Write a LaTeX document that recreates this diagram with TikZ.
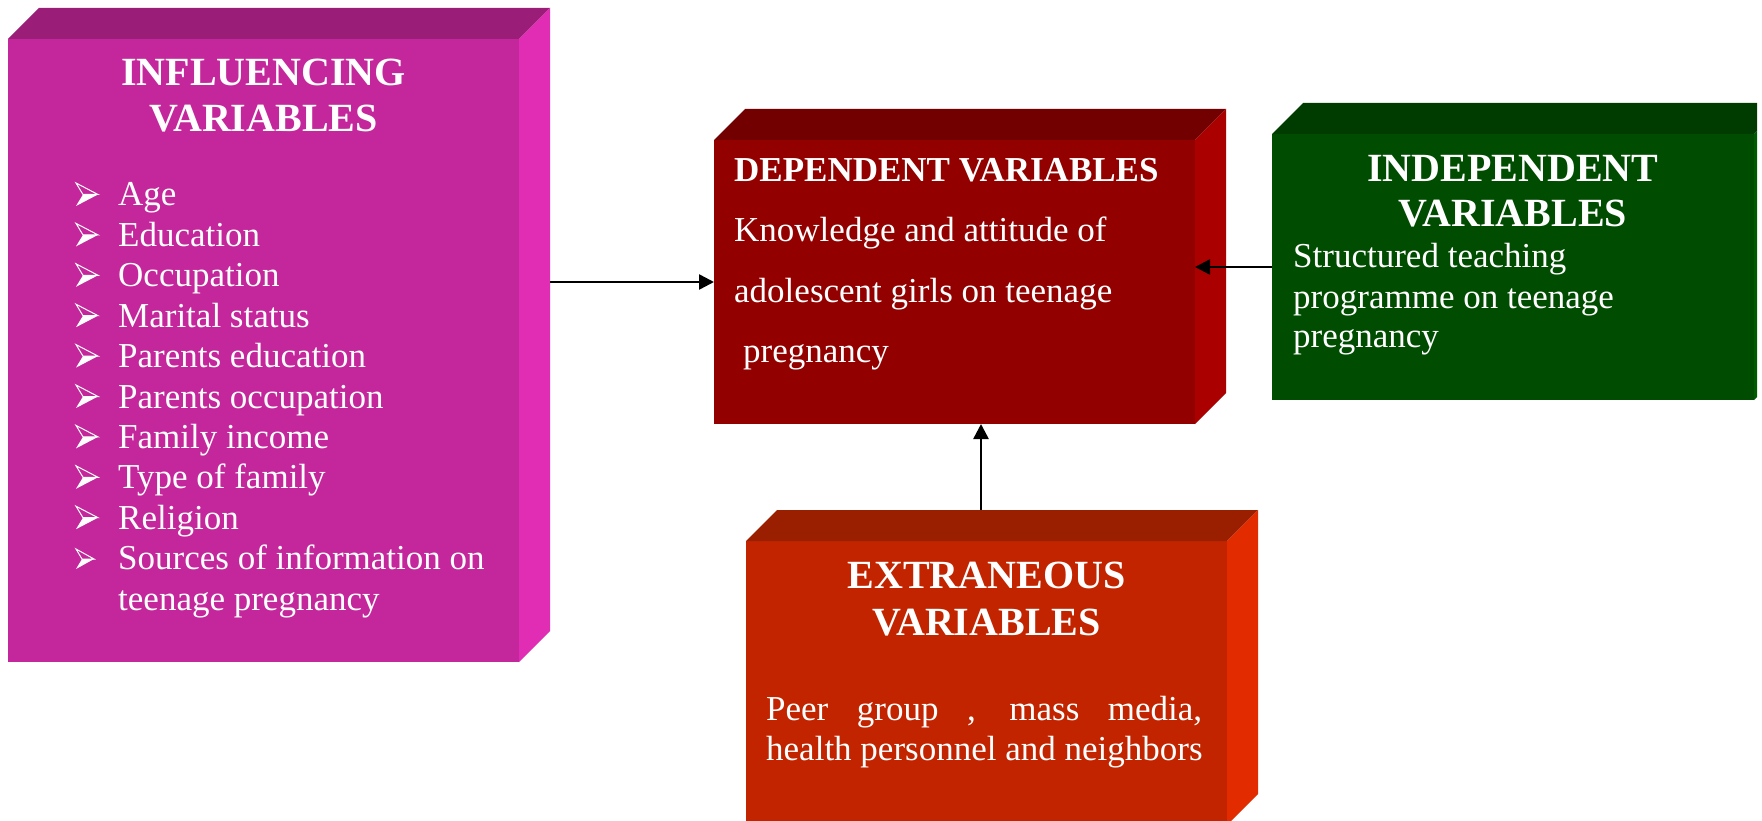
\documentclass[tikz,border=0pt]{standalone}
\usepackage{fontspec}
\setmainfont{Liberation Serif}
\usetikzlibrary{arrows.meta,calc}

% face colours of the four blocks
\definecolor{infl-front}{HTML}{C4279B}
\definecolor{infl-top}{HTML}{9A1E77}
\definecolor{infl-side}{HTML}{E02DB3}
\definecolor{dep-front}{HTML}{920000}
\definecolor{dep-top}{HTML}{720000}
\definecolor{dep-side}{HTML}{AA0000}
\definecolor{ind-front}{HTML}{004C00}
\definecolor{ind-top}{HTML}{003C00}
\definecolor{ind-side}{HTML}{005A00}
\definecolor{ext-front}{HTML}{C32400}
\definecolor{ext-top}{HTML}{9A1E00}
\definecolor{ext-side}{HTML}{E22C00}

\def\bd{31}% depth of the blocks

\tikzset{
  face/.style={inner sep=0pt, outer sep=0pt, anchor=north west},
  head/.style={text=white, font=\fontsize{40}{45}\selectfont\bfseries, inner sep=0pt, anchor=base},
  body/.style={text=white, font=\fontsize{35}{40}\selectfont, inner sep=0pt, anchor=base west},
  arr/.style={line width=2.5pt, -{Triangle[length=15pt,width=15pt]}},
  pics/arrowbullet/.style={code={
    \draw[white, line width=1pt, line join=miter] (0,0) -- (22,11.5) -- (7,11.5) -- cycle;
    \fill[white] (7,11.5) -- (22,11.5) -- (0,23) -- cycle;
  }},
  pics/smallbullet/.style={code={
    \draw[white, line width=1pt, line join=miter] (0,0) -- (18,10) -- (6,10) -- cycle;
    \fill[white] (6,10) -- (18,10) -- (0,20) -- cycle;
  }},
}

% block with front face as named node, plus top and side faces
\newcommand\cuboid[6]{%
  \node[face, fill=#6-front, minimum width=#4pt, minimum height=#5pt] (#1) at (#2,#3) {};
  \fill[#6-top] (#1.north west) -- ++(\bd,-\bd) -- ($(#1.north east)+(\bd,-\bd)$) -- (#1.north east) -- cycle;
  \fill[#6-side] (#1.north east) -- ++(\bd,-\bd) -- ($(#1.south east)+(\bd,-\bd)$) -- (#1.south east) -- cycle;
}

\begin{document}
\begin{tikzpicture}[x=1pt,y=-1pt]
\useasboundingbox (0,0) rectangle (1762,821);

% blocks
\cuboid{infl}{8}{39}{511}{623}{infl}
\cuboid{dep}{714}{140}{481}{284}{dep}
\begin{scope}
  \clip (0,0) rectangle (1757,821);
  \cuboid{ind}{1272}{134}{482}{266}{ind}
\end{scope}
\cuboid{ext}{746}{541}{481}{284}{ext}

% influencing variables
\node[head] (infl-h1) at (263.5,86) {INFLUENCING};
\node[head] (infl-h2) at (263.5,132) {VARIABLES};
\foreach \txt [count=\i from 0] in {Age, Education, Occupation, Marital status,
    Parents education, Parents occupation, Family income, Type of family, Religion} {
  \pic at (76,{183+40.4*\i}) {arrowbullet};
  \node[body] (infl-i\i) at (118,{206+40.4*\i}) {\txt};
}
\pic at (76,549) {smallbullet};
\node[body] (infl-i9) at (118,569.6) {Sources of information on};
\node[body] (infl-i10) at (118,610) {teenage pregnancy};

% dependent variables
\node[body, font=\fontsize{35}{40}\selectfont\bfseries] (dep-h) at (734,182) {DEPENDENT VARIABLES};
\node[body] (dep-l1) at (734,242) {Knowledge and attitude of};
\node[body] (dep-l2) at (734,302) {adolescent girls on teenage};
\node[body] (dep-l3) at (743,362) {pregnancy};

% independent variables
\node[head] (ind-h1) at (1513,182) {INDEPENDENT};
\node[head] (ind-h2) at (1513,227) {VARIABLES};
\node[body] (ind-l1) at (1293,268) {Structured teaching};
\node[body] (ind-l2) at (1293,308) {programme on teenage};
\node[body] (ind-l3) at (1293,347) {pregnancy};

% extraneous variables
\node[head] (ext-h1) at (986.5,588) {EXTRANEOUS};
\node[head] (ext-h2) at (986.5,635) {VARIABLES};
\node[body] (ext-l1) at (766,720) {\makebox[436pt][s]{Peer group , mass media,}};
\node[body] (ext-l2) at (766,760) {health personnel and neighbors};

% connectors
\coordinate (infl-r) at ($(infl.north east)+(\bd,0)$);
\draw[arr] (infl-r |- dep.west) -- (dep.west);
\draw[arr] (ind.west) -- (ind.west -| dep.east);
\coordinate (ext-top) at (981,510);
\draw[arr] (ext-top) -- (ext-top |- dep.south);
\end{tikzpicture}
\end{document}
